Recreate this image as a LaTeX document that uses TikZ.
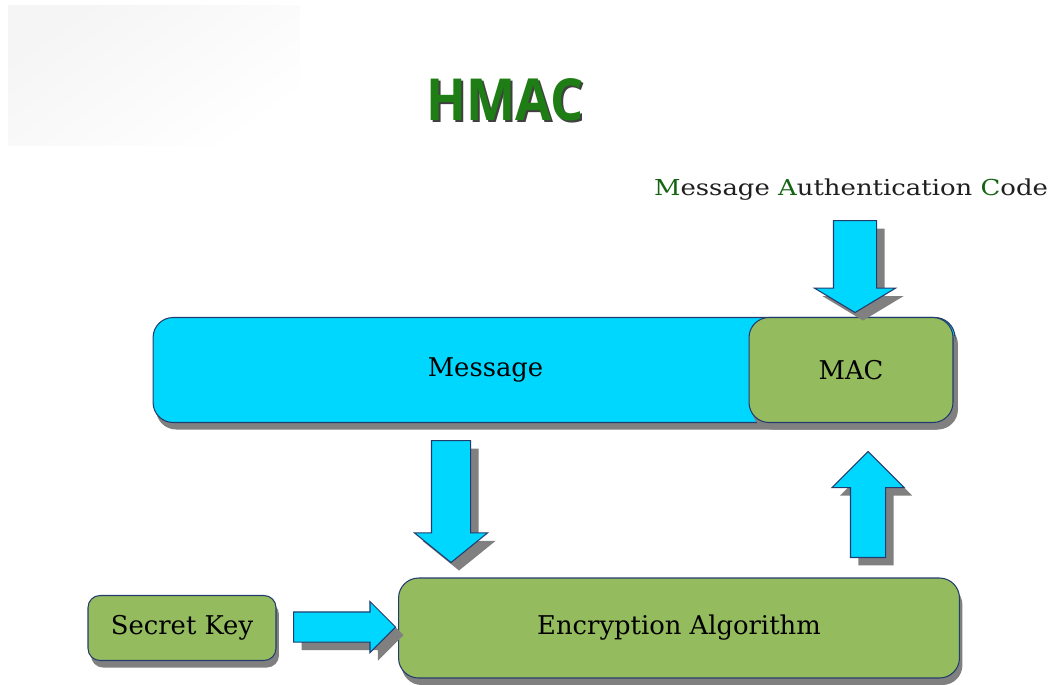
\documentclass[tikz,border=0pt]{standalone}
\usepackage{fontspec}
\setmainfont{DejaVu Serif}
\newfontfamily\titlefont{Open Sans}
\usepackage{xcolor}
\usepackage{graphicx}
\usetikzlibrary{shapes.arrows,shadows,positioning,calc}
\definecolor{msgcyan}{RGB}{0,215,255}
\definecolor{macgreen}{RGB}{148,187,94}
\definecolor{edgeblue}{RGB}{35,60,110}
\definecolor{shadegray}{RGB}{128,128,128}
\definecolor{titlegreen}{RGB}{30,125,20}
\definecolor{initgreen}{RGB}{20,100,20}
\tikzset{%
    boxfont/.style = { font=\fontsize{14.7}{17}\selectfont },
        block/.style = { draw=edgeblue, line width=0.6pt, inner sep=0pt, rounded corners=0.4cm,
                         drop shadow={shadow xshift=0.06cm, shadow yshift=-0.14cm, fill=shadegray, opacity=1},
                         boxfont },
      msgblock/.style = { block, fill=msgcyan },
      macblock/.style = { block, fill=macgreen },
     fatarrow/.style = { single arrow, draw=edgeblue, fill=msgcyan, line width=0.6pt, inner xsep=0pt,
                         anchor=tail, drop shadow={shadow xshift=0.16cm, shadow yshift=-0.16cm, fill=shadegray, opacity=1} },
    titletext/.style = { font=\titlefont\bfseries\fontsize{33}{36}\selectfont, inner sep=0pt },
     toplabel/.style = { font=\fontsize{12.5}{15}\selectfont, text=black!88, inner sep=0pt }
}
\begin{document}
\begin{tikzpicture}[x=0.02cm,y=-0.02cm]
\useasboundingbox (0,0) rectangle (1057,684);
% faint backdrop in the corner
\shade [top color=black!4, bottom color=white, shading angle=35] (8,5) rectangle (300,145);
% title
\node [titletext, text=black!75] (titleshade) at (507,102) {\scalebox{0.9}[1]{HMAC}};
\node [titletext, text=titlegreen] (title) at (505,100) {\scalebox{0.9}[1]{HMAC}};
\node [toplabel] (maclabel) at (851,190) {\scalebox{1.18}[1]{\textcolor{initgreen}{M}essage \textcolor{initgreen}{A}uthentication \textcolor{initgreen}{C}ode}};
% boxes
\node [msgblock, minimum width=16.04cm, minimum height=2.1cm,
       label={[boxfont, xshift=-1.37cm]center:Message}] (msg) at (554,370) {};
\node [macblock, minimum width=4.08cm, minimum height=2.1cm] (mac) at (851,370) {MAC};
\node [macblock, minimum width=3.76cm, minimum height=1.3cm, rounded corners=0.24cm] (key) at (182,628) {Secret Key};
\node [macblock, minimum width=11.22cm, minimum height=2.0cm] (enc) at (679,628) {Encryption Algorithm};
% arrows
\node [fatarrow, rotate=-90, minimum height=1.84cm, inner ysep=0.42cm,
       single arrow head extend=0.38cm, single arrow tip angle=118] (codearrow) at (855,220) {};
\node [fatarrow, rotate=-90, minimum height=2.44cm, inner ysep=0.38cm,
       single arrow head extend=0.34cm, single arrow tip angle=102] (msgarrow) at (451,440) {};
\node [fatarrow, rotate=90, minimum height=2.12cm, inner ysep=0.34cm,
       single arrow head extend=0.37cm, single arrow tip angle=90] (encarrow) at (868,558) {};
\node [fatarrow, minimum height=2.04cm, inner ysep=0.29cm,
       single arrow head extend=0.21cm, single arrow tip angle=90] (keyarrow) at (293,627) {};
\end{tikzpicture}
\end{document}
